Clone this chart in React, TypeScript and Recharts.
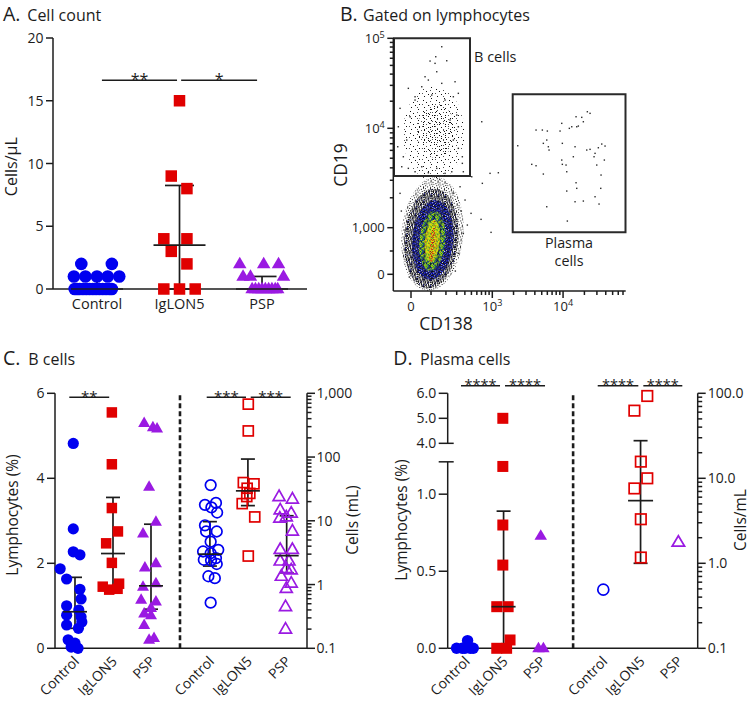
import React from 'react';
import {
  ScatterChart,
  Scatter,
  XAxis,
  YAxis,
  ReferenceLine,
  ReferenceDot,
  ReferenceArea,
  ErrorBar,
} from 'recharts';

const FONT = '"Open Sans", "Noto Sans", "DejaVu Sans", sans-serif';
const INK = '#1c1c1c';
const BLUE = '#0000f0';
const RED = '#e00000';
const PURPLE = '#9a1ae2';
const AXIS = { stroke: INK, strokeWidth: 1.5 };

// ---------------- Panel A: cell count (cells/µL) ----------------
const A_CATEGORIES = ['Control', 'IgLON5', 'PSP'];
const A_CAT_X = [1, 2, 3];
const A_Y_TICKS = [0, 5, 10, 15, 20];
const A_CONTROL = [
  [0.81, 2], [1.18, 2],
  [0.72, 1], [0.86, 1], [1.0, 1], [1.13, 1], [1.27, 1],
  [0.73, 0], [0.76, 0], [0.79, 0], [0.83, 0], [0.87, 0], [0.91, 0], [0.95, 0],
  [0.99, 0], [1.03, 0], [1.07, 0], [1.11, 0], [1.15, 0], [1.18, 0],
];
const A_IGLON5 = [
  [2.0, 15], [1.9, 9], [2.09, 8], [1.81, 4], [2.09, 4], [1.9, 3], [2.09, 2],
  [1.81, 0], [2.0, 0], [2.19, 0],
];
const A_PSP = [
  [2.73, 2], [3.02, 2], [3.2, 2],
  [2.77, 1], [2.86, 1], [3.26, 1],
  [2.88, 0], [2.92, 0], [2.96, 0], [3.0, 0], [3.04, 0], [3.08, 0], [3.12, 0], [3.16, 0], [3.19, 0],
];
const A_SUMMARY = [
  { x: 1, med: 0, q1: 0, q3: 1 },
  { x: 2, med: 3.5, q1: 0, q3: 8.25 },
  { x: 3, med: 0, q1: 0, q3: 1 },
];
const A_SIG = [
  { from: 1.06, to: 1.97, y: 16.63, label: '**' },
  { from: 2.02, to: 2.94, y: 16.63, label: '*' },
];

// ---------------- Panel B: flow cytometry (display channel units) ----------------
const B_X_MAJOR = [
  { v: 0, text: '0' },
  { v: 1000, text: '10', sup: '3' },
  { v: 10000, text: '10', sup: '4' },
];
const B_X_MINOR = [100, 200, 300, 400, 500, 600, 700, 800, 900, 2000, 3000, 4000, 5000, 6000, 7000, 8000, 9000, 20000, 30000, 40000, 50000, 60000, 70000];
const B_Y_MAJOR = [
  { v: 0, text: '0' },
  { v: 1000, text: '1,000' },
  { v: 10000, text: '10', sup: '4' },
  { v: 100000, text: '10', sup: '5' },
];
const B_Y_MINOR = [500, 2000, 3000, 4000, 5000, 6000, 7000, 8000, 9000, 20000, 30000, 40000, 50000, 60000, 70000, 80000, 90000];
// centres of the density layers (B-cell gate cloud and lymphocyte cloud)
const B_DENSITY = [
  { x: 40.5, y: 157.5, layer: 'gateOuter' },
  { x: 43, y: 160, layer: 'gateInner' },
  { x: 39, y: 57, layer: 'halo' },
  { x: 38, y: 52.5, layer: 'outer' },
  { x: 39.5, y: 51, layer: 'blue' },
  { x: 39, y: 50, layer: 'green' },
  { x: 39, y: 50, layer: 'yellow' },
  { x: 39.5, y: 46, layer: 'red' },
];
const B_GATE_EVENTS = [
  [48.4, 244.3], [36.7, 230], [42.4, 234.3], [53.4, 230.3], [41.7, 227.7], [15, 202.7], [61.7, 209.3],
  [31.7, 214.3], [35, 211], [21.7, 194.3], [60, 194.3], [65, 197.7], [43.4, 219.3], [48.4, 207.7],
  [28.4, 204.3], [38.4, 196], [6.7, 182.7], [63.4, 176], [5, 164.3], [65, 164.3], [4.4, 144.3],
  [65, 142.7], [10, 134.3], [69, 134.3], [8.4, 124.3], [70, 119.3], [21.7, 119.3], [35, 118.3],
  [51.7, 117.7], [58.4, 119.3], [15, 122.7], [28.4, 124.3], [43.4, 122.7], [13.4, 151], [60, 151],
  [16.7, 174.3], [56.7, 171], [21.7, 191], [51.7, 191],
];
const B_PLASMA_EVENTS = [
  [124.4, 145.3], [138.4, 126.7], [142.7, 125.3], [142.7, 161], [149, 161], [154, 160], [150, 147.7],
  [153.4, 151], [155, 144.3], [155.7, 141], [166.7, 160], [168.4, 167.7], [169, 147.7], [168.4, 131],
  [169, 126.7], [173.4, 119.3], [176, 162.7], [178.4, 164.3], [181.7, 144.3], [182.7, 174.3],
  [183.4, 164.3], [185, 165], [188.4, 173.7], [190, 169.3], [194, 179.3], [196.7, 177.7], [193.4, 141],
  [196.7, 141.7], [200.7, 134.3], [201.7, 137.7], [203.4, 126], [205, 143.3], [208.4, 147], [211.7, 145],
  [211, 131], [207.7, 116], [207.4, 102.7], [201.7, 94.3], [205.7, 87], [190, 90], [181.7, 89.3],
  [182.7, 108.3], [183.4, 102.7], [173.4, 100], [174, 70], [153.4, 84.3], [150, 117], [172.7, 126], [180, 134.3],
];
const B_OTHER_EVENTS = [
  [88.4, 169.3], [96.7, 117.7], [105, 118.3], [89, 107.7], [77.7, 77.7], [87.7, 71.7], [97.7, 58.7],
  [69, 127.7], [76.7, 130.3], [78.4, 114.3], [66.7, 104.3], [71.7, 91], [70, 57.7], [65, 37.7],
  [6.7, 97.7], [11.7, 61], [13.4, 31], [68, 80], [62, 20], [74, 66], [8, 80], [60, 98], [16, 14],
];
const B_GATES = [
  { x1: 0.7, x2: 76.7, y1: 115, y2: 252.7 },
  { x1: 119.4, x2: 232.2, y1: 58.7, y2: 196.7 },
];

// ---------------- Panel C: B cells ----------------
const C_CATEGORIES = ['Control', 'IgLON5', 'PSP', 'Control', 'IgLON5', 'PSP'];
const C_CAT_X = [1, 2, 3, 4.55, 5.55, 6.57];
const C_LEFT_TICKS = [0, 2, 4, 6];
const C_RIGHT_MAJOR = [0.1, 1, 10, 100, 1000];
const C_RIGHT_LABELS = ['0.1', '1', '10', '100', '1,000'];
const C_PCT_CONTROL = [
  [0.955, 4.82], [0.955, 2.81], [0.955, 2.27], [1.13, 2.2], [0.61, 1.87], [0.78, 1.63], [1.13, 1.39],
  [1.16, 1.16], [0.78, 1.0], [1.1, 0.9], [0.78, 0.78], [1.16, 0.74], [1.18, 0.62], [0.78, 0.55],
  [1.09, 0.47], [0.82, 0.2], [1.0, 0.12], [0.9, 0.03], [1.08, 0.0],
];
const C_PCT_IGLON5 = [
  [1.97, 5.55], [1.97, 4.33], [1.97, 3.3], [2.13, 2.75], [1.82, 2.47], [1.97, 2.01], [2.16, 1.52],
  [1.73, 1.45], [1.9, 1.38], [2.12, 1.4],
];
const C_PCT_PSP = [
  [2.82, 5.3], [3.05, 5.2], [3.16, 5.17], [2.95, 3.8], [3.13, 2.98], [2.79, 2.7], [3.13, 2.0], [2.84, 1.9],
  [3.13, 1.53], [2.79, 1.45], [2.74, 1.14], [3.13, 1.1], [3.0, 0.95], [2.82, 0.82], [3.0, 0.78],
  [2.82, 0.55], [3.08, 0.24], [2.95, 0.2],
];
const C_ML_CONTROL = [
  [4.57, 36.3], [4.42, 17.8], [4.71, 19.1], [4.59, 16.2], [4.74, 13.5], [4.42, 8.5], [4.73, 6.8],
  [4.45, 6.8], [4.57, 4.7], [4.77, 3.5], [4.37, 3.3], [4.57, 3.1], [4.71, 2.6], [4.39, 2.45],
  [4.58, 2.4], [4.73, 2.1], [4.51, 1.35], [4.68, 1.26], [4.57, 0.52],
];
const C_ML_IGLON5 = [
  [5.56, 676], [5.56, 257], [5.43, 39.8], [5.71, 38], [5.53, 32.4], [5.6, 26.9], [5.52, 24],
  [5.4, 18.6], [5.73, 11.5], [5.56, 2.8],
];
const C_ML_PSP = [
  [6.37, 24], [6.72, 21.9], [6.4, 14.8], [6.69, 13.2], [6.39, 11], [6.56, 11.5], [6.72, 6.9],
  [6.4, 3.55], [6.72, 3.55], [6.4, 2.34], [6.63, 2.34], [6.56, 1.78], [6.69, 1.7], [6.43, 1.35],
  [6.69, 1.05], [6.56, 0.87], [6.54, 0.45], [6.54, 0.2],
];
const C_SUMMARY_PCT = [
  { x: 1, med: 0.86, q1: 0.47, q3: 1.67 },
  { x: 2, med: 2.23, q1: 1.43, q3: 3.55 },
  { x: 3, med: 1.47, q1: 0.92, q3: 2.92 },
];
const C_SUMMARY_ML = [
  { x: 4.55, med: 3.0, q1: 1.95, q3: 9.7 },
  { x: 5.55, med: 29.5, q1: 17.3, q3: 93 },
  { x: 6.57, med: 2.84, q1: 1.53, q3: 12 },
];
const C_SIG = [
  { from: 0.85, to: 1.9, y: 5.906, label: '**' },
  { from: 4.466, to: 5.5, y: 5.906, label: '***' },
  { from: 5.624, to: 6.676, y: 5.906, label: '***' },
];
const C_DIVIDER = 3.763;

// ---------------- Panel D: plasma cells ----------------
const D_CATEGORIES = ['Control', 'IgLON5', 'PSP', 'Control', 'IgLON5', 'PSP'];
const D_CAT_X = [1, 2, 3, 4.629, 5.613, 6.61];
const D_LEFT_LABELS = [
  { v: 0, text: '0.0' },
  { v: 0.5, text: '0.5' },
  { v: 1.0, text: '1.0' },
  { v: 4.0, text: '4.0' },
  { v: 5.0, text: '5.0' },
  { v: 6.0, text: '6.0' },
];
const D_RIGHT_MAJOR = [0.1, 1, 10, 100];
const D_RIGHT_LABELS = ['0.1', '1.0', '10.0', '100.0'];
const D_PCT_CONTROL = [[0.76, 0], [0.91, 0], [1.05, 0.05], [1.2, 0], [0.98, 0], [1.12, 0]];
const D_PCT_IGLON5 = [
  [1.98, 5.0], [1.98, 1.18], [1.98, 0.8], [1.98, 0.54], [1.82, 0.27], [2.12, 0.27], [2.17, 0.054],
  [1.82, 0], [2.08, 0],
];
const D_PCT_PSP = [[2.98, 0.73], [2.92, 0], [3.05, 0]];
const D_ML_CONTROL = [[4.63, 0.49]];
const D_ML_IGLON5 = [[5.79, 93], [5.45, 62.5], [5.62, 15.7], [5.79, 10], [5.45, 7.6], [5.62, 3.3], [5.62, 1.17]];
const D_ML_PSP = [[6.61, 1.77]];
const D_SUMMARY_PCT = [{ x: 2, med: 0.27, q1: 0, q3: 0.89 }];
const D_SUMMARY_ML = [{ x: 5.613, med: 5.46, q1: 1.0, q3: 27.7 }];
const D_SIG = [
  { from: 0.877, to: 1.906, label: '****' },
  { from: 2.038, to: 3.093, label: '****' },
  { from: 4.483, to: 5.554, label: '****' },
  { from: 5.686, to: 6.714, label: '****' },
];
const D_DIVIDER = 3.834;

// broken-axis transform for panel D left axis
const D_LOW_MAX = 1.21;
const D_GAP = 0.12;
const D_UPPER = 0.1623;
const dT = (v: number) => (v <= D_LOW_MAX ? v : D_LOW_MAX + D_GAP + (v - 4) * D_UPPER);
const D_SIG_Y = dT(6) + 0.049;

// biexponential-like display transforms for panel B
const flowX = (v: number) => 17.7 + 30.8 * Math.asinh(v / 143.5);
const flowY = (v: number) =>
  v <= 1000 ? 16.7 + v * 0.0466 : v <= 10000 ? 63.3 + 99.4 * Math.log10(v / 1000) : 162.7 + 90 * Math.log10(v / 10000);

// ---------------- helpers ----------------
type Pt = { x: number; y: number };
const toPts = (rows: number[][], fy: (v: number) => number = (v) => v): Pt[] => rows.map(([x, y]) => ({ x, y: fy(y) }));
const summaryTable = (rows: { x: number; med: number; q1: number; q3: number }[], fy: (v: number) => number = (v) => v) =>
  rows.map((r) => ({ x: r.x, y: fy(r.med), err: [fy(r.med) - fy(r.q1), fy(r.q3) - fy(r.med)] }));
const near = (a: number, b: number) => Math.abs(a - b) <= 1e-6 * Math.max(1, Math.abs(a));

type TickSpec = { v: number; len: number; text?: string; sup?: string; cross?: number };

const logTicks = (majors: number[], labels: string[], majorLen: number, minorLen: number): TickSpec[] => {
  const out: TickSpec[] = majors.map((m, i) => ({ v: m, len: majorLen, text: labels[i] }));
  for (let i = 0; i < majors.length - 1; i++) {
    for (let k = 2; k <= 9; k++) out.push({ v: majors[i] * k, len: minorLen });
  }
  return out;
};

const Label = ({ s, fs }: { s: TickSpec; fs: number }) => (
  <>
    {s.text}
    {s.sup && (
      <tspan dy={-fs * 0.42} fontSize={fs * 0.7}>
        {s.sup}
      </tspan>
    )}
  </>
);

const yTickLeft = (specs: TickSpec[], fs: number) => (p: any) => {
  const s = specs.find((t) => near(t.v, p.payload.value));
  if (!s) return <g />;
  return (
    <g>
      <line x1={p.x - s.len} x2={p.x + (s.cross || 0)} y1={p.y} y2={p.y} stroke={INK} strokeWidth={1.5} />
      {s.text !== undefined && (
        <text x={p.x - s.len - 2.5} y={p.y} dy="0.36em" textAnchor="end" fontSize={fs} fontFamily={FONT} fill={INK}>
          <Label s={s} fs={fs} />
        </text>
      )}
    </g>
  );
};

const yTickRight = (specs: TickSpec[], fs: number, gap: number) => (p: any) => {
  const s = specs.find((t) => near(t.v, p.payload.value));
  if (!s) return <g />;
  return (
    <g>
      <line x1={p.x} x2={p.x + s.len} y1={p.y} y2={p.y} stroke={INK} strokeWidth={1.5} />
      {s.text !== undefined && (
        <text x={p.x + gap} y={p.y} dy="0.36em" textAnchor="start" fontSize={fs} fontFamily={FONT} fill={INK}>
          {s.text}
        </text>
      )}
    </g>
  );
};

const xTickFlow = (specs: TickSpec[], fs: number) => (p: any) => {
  const s = specs.find((t) => near(t.v, p.payload.value));
  if (!s) return <g />;
  return (
    <g>
      <line x1={p.x} x2={p.x} y1={p.y} y2={p.y + s.len} stroke={INK} strokeWidth={1.5} />
      {s.text !== undefined && (
        <text x={p.x} y={p.y + 20} textAnchor="middle" fontSize={fs} fontFamily={FONT} fill={INK}>
          <Label s={s} fs={fs} />
        </text>
      )}
    </g>
  );
};

const catTickFlat = (labels: string[], xs: number[], fs: number) => (p: any) => {
  const i = xs.findIndex((v) => near(v, p.payload.value));
  return (
    <text x={p.x} y={p.y + 19.5} textAnchor="middle" fontSize={fs} fontFamily={FONT} fill={INK}>
      {labels[i]}
    </text>
  );
};

const catTickRot = (labels: string[], xs: number[], fs: number) => (p: any) => {
  const i = xs.findIndex((v) => near(v, p.payload.value));
  const px = p.x + 5;
  const py = p.y + 14;
  return (
    <text x={px} y={py} textAnchor="end" transform={`rotate(-45 ${px} ${py})`} fontSize={fs} fontFamily={FONT} fill={INK}>
      {labels[i]}
    </text>
  );
};

type MarkerOpts = { kind: 'circle' | 'square' | 'triangle'; size: number; color: string; open?: boolean; h?: number };
const marker = (o: MarkerOpts) => (p: any) => {
  const { cx, cy } = p;
  const fill = o.open ? 'none' : o.color;
  const stroke = o.open ? o.color : 'none';
  const sw = o.open ? 1.7 : 0;
  if (o.kind === 'circle') return <circle cx={cx} cy={cy} r={o.size} fill={fill} stroke={stroke} strokeWidth={sw} />;
  if (o.kind === 'square') {
    const h = o.size / 2;
    return <rect x={cx - h} y={cy - h} width={o.size} height={o.size} fill={fill} stroke={stroke} strokeWidth={sw} />;
  }
  const w = o.size;
  const h = o.h ?? o.size * 0.9;
  const pts = `${cx},${cy - h * 0.62} ${cx - w / 2},${cy + h * 0.38} ${cx + w / 2},${cy + h * 0.38}`;
  return <polygon points={pts} fill={fill} stroke={stroke} strokeWidth={sw} strokeLinejoin="miter" />;
};

const medianShape = (half: number) => (p: any) => (
  <line x1={p.cx - half} x2={p.cx + half} y1={p.cy} y2={p.cy} stroke={INK} strokeWidth={1.7} />
);

const starShape = (label: string, fs: number) => (p: any) => (
  <text x={p.cx} y={p.cy + 4.5} textAnchor="middle" fontSize={fs} fontFamily={FONT} fill={INK}>
    {label}
  </text>
);

const LAYER_STYLE: Record<string, { rx: number; ry: number; fill: string; rot: number }> = {
  gateOuter: { rx: 31, ry: 47, fill: 'url(#fc-gate1)', rot: 0 },
  gateInner: { rx: 19, ry: 27, fill: 'url(#fc-gate2)', rot: 0 },
  halo: { rx: 31, ry: 57, fill: 'url(#fc-halo)', rot: 5 },
  outer: { rx: 27, ry: 50, fill: 'url(#fc-black)', rot: 5 },
  blue: { rx: 20.5, ry: 40, fill: 'url(#fc-blue)', rot: 5 },
  green: { rx: 13, ry: 30, fill: 'url(#fc-green)', rot: 5 },
  yellow: { rx: 7.5, ry: 21, fill: 'url(#fc-yellow)', rot: 5 },
  red: { rx: 4, ry: 17, fill: 'url(#fc-red)', rot: 5 },
};
const layerShape = (p: any) => {
  const st = LAYER_STYLE[p.payload?.layer ?? p.layer];
  if (!st) return <g />;
  return (
    <ellipse cx={p.cx} cy={p.cy} rx={st.rx} ry={st.ry} fill={st.fill} transform={`rotate(${st.rot} ${p.cx} ${p.cy})`} />
  );
};
const eventDot = (p: any) => <rect x={p.cx - 0.65} y={p.cy - 0.65} width={1.4} height={1.4} fill="#2a2a2a" />;

// speckle textures for the density plot: each character is a 1px cell
const SPECKLE_COLORS: Record<string, string> = {
  k: '#111111',
  g: '#555555',
  n: '#0c0c66',
  B: '#2a38ff',
  b: '#1a22b8',
  D: '#1c6a26',
  G: '#2f9a34',
  l: '#8cc820',
  y: '#dcdc12',
  Y: '#f2e000',
  r: '#e01a10',
  o: '#f05a10',
};
const speckle = (id: string, rows: string[], cell = 1) => (
  <pattern id={id} width={rows[0].length * cell} height={rows.length * cell} patternUnits="userSpaceOnUse" key={id}>
    {rows.flatMap((row, j) =>
      row.split('').map((ch, i) =>
        SPECKLE_COLORS[ch] ? (
          <rect key={`${i}-${j}`} x={i * cell} y={j * cell} width={cell} height={cell} fill={SPECKLE_COLORS[ch]} />
        ) : null,
      ),
    )}
  </pattern>
);

const PatternDefs = () => (
  <svg width={0} height={0} style={{ position: 'absolute' }}>
    <defs>
      {speckle('fc-gate1', [
        '.............',
        '..k..........',
        '.........g...',
        '.....k.......',
        '.............',
        '.g.........k.',
        '.......k.....',
        '.............',
        '...k.....g...',
        '.............',
        '..........k..',
      ])}
      {speckle('fc-gate2', [
        '.....k.....',
        '.k.........',
        '........g..',
        '...........',
        '...g..k....',
        '..........k',
        'k..........',
        '.....k..g..',
        '...........',
      ])}
      {speckle('fc-halo', [
        'k....g.',
        '...k...',
        '.g....k',
        '....k..',
        'k......',
        '..k..g.',
        '.....k.',
      ])}
      {speckle('fc-black', [
        'k.gk.kn',
        '.k..k.g',
        'gk.kn.k',
        '.k.kg..',
        'k.n.k.k',
        '.kg.k.b',
        'k.k..gk',
      ])}
      {speckle('fc-blue', [
        'nBkn.nB',
        'nkbBkn.',
        'kn.kbBk',
        'Bnk.nkb',
        'n.Bbk.n',
        'kkn.Bnk',
        'b.Bkn.n',
      ])}
      {speckle('fc-green', [
        'DlGbkly',
        'lG.DnbG',
        'yDbkl.l',
        'GbGyDlb',
        'klyG.nG',
        'bGDlkGy',
        'yGb.DlG',
      ])}
      {speckle('fc-yellow', [
        'yYlyGyY',
        'lyYDyrl',
        'yGlYly.',
        'Yl.yYyG',
        'yYlyr.y',
        'G.yYlyY',
        'yly.YGy',
      ])}
      {speckle('fc-red', [
        'r...o.',
        '..r...',
        '.....r',
        'r..o..',
        '......',
        '.r..r.',
      ])}
    </defs>
  </svg>
);

// ---------------- Panels ----------------
const PanelA = () => (
  <ScatterChart width={375} height={340} margin={{ top: 38, right: 68, bottom: 0, left: 0 }}>
    <XAxis
      type="number"
      dataKey="x"
      domain={[0.467, 3.545]}
      ticks={A_CAT_X}
      interval={0}
      height={51}
      tickLine={false}
      tickSize={0}
      tickMargin={0}
      axisLine={AXIS}
      tick={catTickFlat(A_CATEGORIES, A_CAT_X, 14.5)}
    />
    <YAxis
      type="number"
      dataKey="y"
      domain={[0, 20]}
      ticks={A_Y_TICKS}
      interval={0}
      width={53}
      tickLine={false}
      tickSize={0}
      tickMargin={0}
      axisLine={AXIS}
      tick={yTickLeft(A_Y_TICKS.map((v) => ({ v, len: 7, text: String(v) })), 14)}
    />
    <Scatter data={toPts(A_CONTROL)} shape={marker({ kind: 'circle', size: 6.3, color: BLUE })} isAnimationActive={false} />
    <Scatter data={toPts(A_IGLON5)} shape={marker({ kind: 'square', size: 11.5, color: RED })} isAnimationActive={false} />
    <Scatter data={toPts(A_PSP)} shape={marker({ kind: 'triangle', size: 13.5, h: 11.5, color: PURPLE })} isAnimationActive={false} />
    <Scatter data={summaryTable(A_SUMMARY)} shape={medianShape(26)} isAnimationActive={false}>
      <ErrorBar dataKey="err" direction="y" width={14.5} stroke={INK} strokeWidth={1.7} isAnimationActive={false} />
    </Scatter>
    {A_SIG.map((s, i) => (
      <ReferenceLine
        key={`al${i}`}
        segment={[{ x: s.from, y: s.y }, { x: s.to, y: s.y }]}
        stroke={INK}
        strokeWidth={1.5}
        ifOverflow="visible"
      />
    ))}
    {A_SIG.map((s, i) => (
      <ReferenceDot key={`ad${i}`} x={(s.from + s.to) / 2} y={s.y} r={0} ifOverflow="visible" shape={starShape(s.label, 16)} />
    ))}
  </ScatterChart>
);

const bXTicks: TickSpec[] = [
  ...B_X_MAJOR.map((t) => ({ v: flowX(t.v), len: 7, text: t.text, sup: t.sup })),
  ...B_X_MINOR.map((v) => ({ v: flowX(v), len: 4 })),
];
const bYTicks: TickSpec[] = [
  ...B_Y_MAJOR.map((t) => ({ v: flowY(t.v), len: 6, text: t.text, sup: t.sup })),
  ...B_Y_MINOR.map((v) => ({ v: flowY(v), len: 3.5 })),
];

const PanelB = () => (
  <ScatterChart width={420} height={340} margin={{ top: 38.3, right: 124.3, bottom: 0, left: 0 }}>
    <XAxis
      type="number"
      dataKey="x"
      domain={[0, 232.4]}
      ticks={bXTicks.map((t) => t.v)}
      interval={0}
      height={49}
      tickLine={false}
      tickSize={0}
      tickMargin={0}
      axisLine={AXIS}
      tick={xTickFlow(bXTicks, 13)}
    />
    <YAxis
      type="number"
      dataKey="y"
      domain={[0, 252.7]}
      ticks={bYTicks.map((t) => t.v)}
      interval={0}
      width={63.3}
      tickLine={false}
      tickSize={0}
      tickMargin={0}
      axisLine={AXIS}
      tick={yTickLeft(bYTicks, 13)}
    />
    <Scatter data={B_DENSITY} shape={layerShape} isAnimationActive={false} />
    <Scatter data={toPts(B_GATE_EVENTS)} shape={eventDot} isAnimationActive={false} />
    <Scatter data={toPts(B_PLASMA_EVENTS)} shape={eventDot} isAnimationActive={false} />
    <Scatter data={toPts(B_OTHER_EVENTS)} shape={eventDot} isAnimationActive={false} />
    {B_GATES.map((g, i) => (
      <ReferenceArea key={`g${i}`} x1={g.x1} x2={g.x2} y1={g.y1} y2={g.y2} fill="none" stroke="#2a2a2a" strokeWidth={2} ifOverflow="visible" />
    ))}
  </ScatterChart>
);

const cLeftTicks: TickSpec[] = C_LEFT_TICKS.map((v) => ({ v, len: 8, text: String(v) }));
const cRightTicks = logTicks(C_RIGHT_MAJOR, C_RIGHT_LABELS, 8, 4.5);

const PanelC = () => (
  <ScatterChart width={375} height={361} margin={{ top: 53.3, right: 0, bottom: 0, left: 0 }}>
    <XAxis
      type="number"
      dataKey="x"
      domain={[0.474, 7.105]}
      ticks={C_CAT_X}
      interval={0}
      height={52.7}
      tickLine={false}
      tickSize={0}
      tickMargin={0}
      axisLine={AXIS}
      tick={catTickRot(C_CATEGORIES, C_CAT_X, 14)}
    />
    <YAxis
      yAxisId="left"
      type="number"
      dataKey="y"
      domain={[0, 6]}
      ticks={C_LEFT_TICKS}
      interval={0}
      width={55}
      tickLine={false}
      tickSize={0}
      tickMargin={0}
      axisLine={AXIS}
      tick={yTickLeft(cLeftTicks, 14)}
    />
    <YAxis
      yAxisId="right"
      orientation="right"
      type="number"
      dataKey="y"
      scale="log"
      domain={[0.1, 1000]}
      ticks={cRightTicks.map((t) => t.v)}
      interval={0}
      width={68}
      tickLine={false}
      tickSize={0}
      tickMargin={0}
      axisLine={AXIS}
      tick={yTickRight(cRightTicks, 14, 9.5)}
    />
    <ReferenceLine yAxisId="left" x={C_DIVIDER} stroke={INK} strokeWidth={2.6} strokeDasharray="5 3" />
    <Scatter yAxisId="left" data={toPts(C_PCT_CONTROL)} shape={marker({ kind: 'circle', size: 5.6, color: BLUE })} isAnimationActive={false} />
    <Scatter yAxisId="left" data={toPts(C_PCT_IGLON5)} shape={marker({ kind: 'square', size: 10.5, color: RED })} isAnimationActive={false} />
    <Scatter yAxisId="left" data={toPts(C_PCT_PSP)} shape={marker({ kind: 'triangle', size: 12, h: 10.5, color: PURPLE })} isAnimationActive={false} />
    <Scatter yAxisId="right" data={toPts(C_ML_CONTROL)} shape={marker({ kind: 'circle', size: 5.3, color: BLUE, open: true })} isAnimationActive={false} />
    <Scatter yAxisId="right" data={toPts(C_ML_IGLON5)} shape={marker({ kind: 'square', size: 10, color: RED, open: true })} isAnimationActive={false} />
    <Scatter yAxisId="right" data={toPts(C_ML_PSP)} shape={marker({ kind: 'triangle', size: 12, h: 10.5, color: PURPLE, open: true })} isAnimationActive={false} />
    <Scatter yAxisId="left" data={summaryTable(C_SUMMARY_PCT)} shape={medianShape(12)} isAnimationActive={false}>
      <ErrorBar dataKey="err" direction="y" width={7} stroke={INK} strokeWidth={1.7} isAnimationActive={false} />
    </Scatter>
    <Scatter yAxisId="right" data={summaryTable(C_SUMMARY_ML)} shape={medianShape(12)} isAnimationActive={false}>
      <ErrorBar dataKey="err" direction="y" width={7} stroke={INK} strokeWidth={1.7} isAnimationActive={false} />
    </Scatter>
    {C_SIG.map((s, i) => (
      <ReferenceLine
        key={`cl${i}`}
        yAxisId="left"
        segment={[{ x: s.from, y: s.y }, { x: s.to, y: s.y }]}
        stroke={INK}
        strokeWidth={1.5}
        ifOverflow="visible"
      />
    ))}
    {C_SIG.map((s, i) => (
      <ReferenceDot key={`cd${i}`} yAxisId="left" x={(s.from + s.to) / 2} y={s.y} r={0} ifOverflow="visible" shape={starShape(s.label, 15)} />
    ))}
  </ScatterChart>
);

const dLeftTicks: TickSpec[] = [
  ...D_LEFT_LABELS.map((t) => ({ v: dT(t.v), len: 9, text: t.text, cross: t.v === 4 ? 6 : 0 })),
  { v: D_LOW_MAX, len: 9, cross: 6 },
];
const dRightTicks = logTicks(D_RIGHT_MAJOR, D_RIGHT_LABELS, 8, 4.5);
const D_X_DOMAIN = [0.526, 7.12];

const PanelD = () => (
  <ScatterChart width={375} height={361} margin={{ top: 53.3, right: 0, bottom: 0, left: 0 }}>
    <XAxis
      type="number"
      dataKey="x"
      domain={D_X_DOMAIN}
      ticks={D_CAT_X}
      interval={0}
      height={52.7}
      tickLine={false}
      tickSize={0}
      tickMargin={0}
      axisLine={AXIS}
      tick={catTickRot(D_CATEGORIES, D_CAT_X, 14)}
    />
    <YAxis
      yAxisId="left"
      type="number"
      dataKey="y"
      domain={[0, dT(6)]}
      ticks={dLeftTicks.map((t) => t.v)}
      interval={0}
      width={72.7}
      tickLine={false}
      tickSize={0}
      tickMargin={0}
      axisLine={false}
      tick={yTickLeft(dLeftTicks, 14)}
    />
    <YAxis
      yAxisId="right"
      orientation="right"
      type="number"
      dataKey="y"
      scale="log"
      domain={[0.1, 100]}
      ticks={dRightTicks.map((t) => t.v)}
      interval={0}
      width={52.3}
      tickLine={false}
      tickSize={0}
      tickMargin={0}
      axisLine={AXIS}
      tick={yTickRight(dRightTicks, 14, 10)}
    />
    <ReferenceLine
      yAxisId="left"
      segment={[{ x: D_X_DOMAIN[0], y: 0 }, { x: D_X_DOMAIN[0], y: D_LOW_MAX }]}
      stroke={INK}
      strokeWidth={1.5}
      ifOverflow="visible"
    />
    <ReferenceLine
      yAxisId="left"
      segment={[{ x: D_X_DOMAIN[0], y: dT(4) }, { x: D_X_DOMAIN[0], y: dT(6) }]}
      stroke={INK}
      strokeWidth={1.5}
      ifOverflow="visible"
    />
    <ReferenceLine yAxisId="left" x={D_DIVIDER} stroke={INK} strokeWidth={2.6} strokeDasharray="5 3" />
    <Scatter yAxisId="left" data={toPts(D_PCT_CONTROL, dT)} shape={marker({ kind: 'circle', size: 5.7, color: BLUE })} isAnimationActive={false} />
    <Scatter yAxisId="left" data={toPts(D_PCT_IGLON5, dT)} shape={marker({ kind: 'square', size: 11, color: RED })} isAnimationActive={false} />
    <Scatter yAxisId="left" data={toPts(D_PCT_PSP, dT)} shape={marker({ kind: 'triangle', size: 12.5, h: 10.5, color: PURPLE })} isAnimationActive={false} />
    <Scatter yAxisId="right" data={toPts(D_ML_CONTROL)} shape={marker({ kind: 'circle', size: 5.5, color: BLUE, open: true })} isAnimationActive={false} />
    <Scatter yAxisId="right" data={toPts(D_ML_IGLON5)} shape={marker({ kind: 'square', size: 10.5, color: RED, open: true })} isAnimationActive={false} />
    <Scatter yAxisId="right" data={toPts(D_ML_PSP)} shape={marker({ kind: 'triangle', size: 12.5, h: 10.5, color: PURPLE, open: true })} isAnimationActive={false} />
    <Scatter yAxisId="left" data={summaryTable(D_SUMMARY_PCT, dT)} shape={medianShape(12)} isAnimationActive={false}>
      <ErrorBar dataKey="err" direction="y" width={7} stroke={INK} strokeWidth={1.7} isAnimationActive={false} />
    </Scatter>
    <Scatter yAxisId="right" data={summaryTable(D_SUMMARY_ML)} shape={medianShape(12.5)} isAnimationActive={false}>
      <ErrorBar dataKey="err" direction="y" width={7} stroke={INK} strokeWidth={1.7} isAnimationActive={false} />
    </Scatter>
    {D_SIG.map((s, i) => (
      <ReferenceLine
        key={`dl${i}`}
        yAxisId="left"
        segment={[{ x: s.from, y: D_SIG_Y }, { x: s.to, y: D_SIG_Y }]}
        stroke={INK}
        strokeWidth={1.5}
        ifOverflow="visible"
      />
    ))}
    {D_SIG.map((s, i) => (
      <ReferenceDot key={`dd${i}`} yAxisId="left" x={(s.from + s.to) / 2} y={D_SIG_Y} r={0} ifOverflow="visible" shape={starShape(s.label, 14.5)} />
    ))}
  </ScatterChart>
);

const Texts = () => (
  <svg width={750} height={701} style={{ position: 'absolute', left: 0, top: 0, pointerEvents: 'none' }} fontFamily={FONT} fill={INK}>
    <text x={3} y={21} fontSize={19.5}>A.</text>
    <text x={27.3} y={21} fontSize={16}>Cell count</text>
    <text x={340} y={21} fontSize={19.5}>B.</text>
    <text x={363} y={21} fontSize={16}>Gated on lymphocytes</text>
    <text x={3} y={365} fontSize={19.5}>C.</text>
    <text x={28.3} y={365} fontSize={16}>B cells</text>
    <text x={393.3} y={365} fontSize={19.5}>D.</text>
    <text x={420} y={365} fontSize={16}>Plasma cells</text>

    <text transform="translate(17 166.7) rotate(-90)" textAnchor="middle" fontSize={16}>Cells/µL</text>
    <text transform="translate(347 165) rotate(-90)" textAnchor="middle" fontSize={17.5}>CD19</text>
    <text x={446} y={329.5} textAnchor="middle" fontSize={17.5}>CD138</text>
    <text x={474} y={61.5} fontSize={14.5}>B cells</text>
    <text x={569} y={247.5} textAnchor="middle" fontSize={14.3}>Plasma</text>
    <text x={569} y={265.5} textAnchor="middle" fontSize={14.3}>cells</text>

    <text transform="translate(18.3 515) rotate(-90)" textAnchor="middle" fontSize={15.5}>Lymphocytes (%)</text>
    <text transform="translate(358 520) rotate(-90)" textAnchor="middle" fontSize={15.5}>Cells (mL)</text>
    <text transform="translate(406.5 520) rotate(-90)" textAnchor="middle" fontSize={15.5}>Lymphocytes (%)</text>
    <text transform="translate(745.5 520) rotate(-90)" textAnchor="middle" fontSize={15.5}>Cells/mL</text>
  </svg>
);

export default function App() {
  return (
    <div style={{ position: 'absolute', left: 0, top: 0, width: 750, height: 701, background: '#fff', overflow: 'hidden' }}>
      <PatternDefs />
      <div style={{ position: 'absolute', left: 0, top: 0 }}>
        <PanelA />
      </div>
      <div style={{ position: 'absolute', left: 330, top: 0 }}>
        <PanelB />
      </div>
      <div style={{ position: 'absolute', left: 0, top: 340 }}>
        <PanelC />
      </div>
      <div style={{ position: 'absolute', left: 375, top: 340 }}>
        <PanelD />
      </div>
      <Texts />
    </div>
  );
}
